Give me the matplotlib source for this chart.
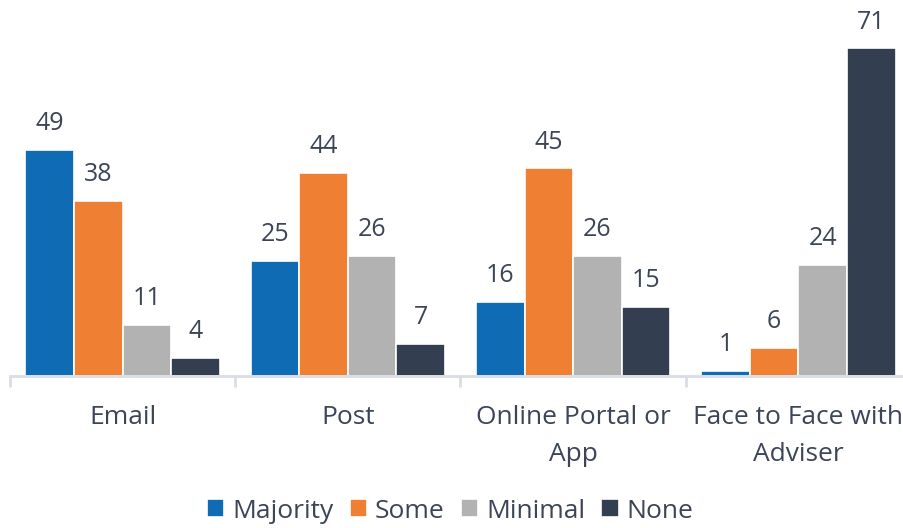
import matplotlib
matplotlib.use("Agg")
import matplotlib.pyplot as plt
import numpy as np

categories = ["Email", "Post", "Online Portal or\nApp", "Face to Face with\nAdviser"]
series_names = ["Majority", "Some", "Minimal", "None"]
majority = [49, 25, 16, 1]
some = [38, 44, 45, 6]
minimal = [11, 26, 26, 24]
none = [4, 7, 15, 71]
colors = ["#0f6bb4", "#ee7f33", "#b2b2b2", "#333f50"]

plt.rcParams['font.family'] = ['Open Sans', 'DejaVu Sans']
text_color = "#3b4556"

fig = plt.figure(figsize=(9.04, 5.28), dpi=100)
W, H = 904, 528
ax = fig.add_axes([10 / W, (528 - 376) / H, 901 / W, (376 - 30) / H])

x = np.arange(len(categories))
bw = 0.2156
data = [majority, some, minimal, none]
for i, (name, vals, c) in enumerate(zip(series_names, data, colors)):
    pos = x + (i - 1.5) * bw
    bars = ax.bar(pos, vals, width=bw, color=c, edgecolor="white", linewidth=1.2, label=name, zorder=2)
    for b, v in zip(bars, vals):
        ax.annotate(str(v), (b.get_x() + b.get_width() / 2, b.get_height()),
                    xytext=(0, 10), textcoords="offset points", ha="center", va="bottom",
                    fontsize=18, color=text_color, clip_on=False)

ax.set_xlim(-0.5, len(categories) - 0.5)
ax.set_ylim(0, 75)
for s in ["top", "right", "left"]:
    ax.spines[s].set_visible(False)
ax.spines["bottom"].set_color("#d9dde5")
ax.spines["bottom"].set_linewidth(2)
ax.set_yticks([])
ax.set_xticks(x)
ax.set_xticklabels(categories, fontsize=19, color=text_color, linespacing=1.6)
ax.tick_params(axis="x", which="major", length=0, pad=21)
ax.set_xticks(np.arange(len(categories) + 1) - 0.5, minor=True)
ax.tick_params(axis="x", which="minor", length=8, width=2, color="#d9dde5")

leg = fig.legend(loc="center", bbox_to_anchor=(0.498, 1 - 511 / H), ncol=4, frameon=False,
                 fontsize=19, handlelength=0.65, handleheight=0.65, handletextpad=0.3,
                 columnspacing=0.62, labelcolor=text_color)

fig.savefig("out.png", dpi=100)
